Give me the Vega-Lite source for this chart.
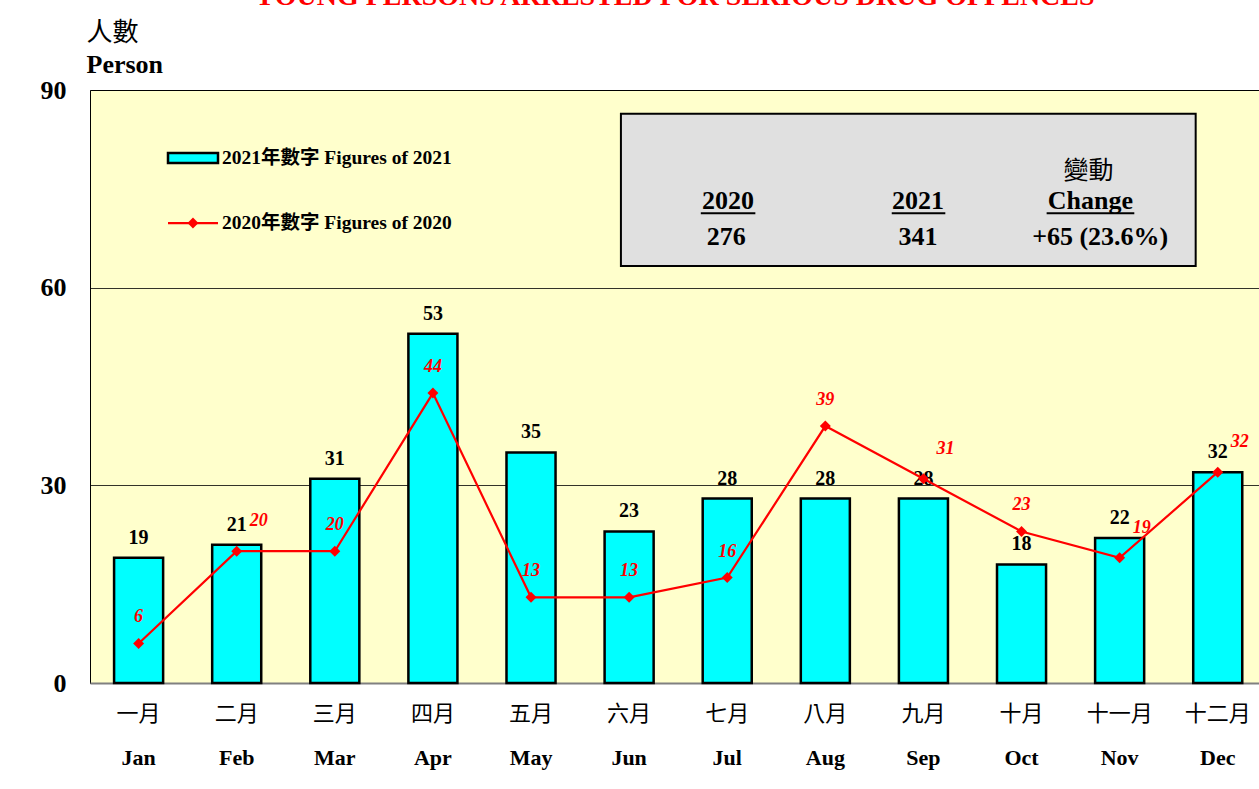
{
  "$schema": "https://vega.github.io/schema/vega-lite/v6.json",
  "width": 1169,
  "height": 593,
  "autosize": {"type": "none"},
  "padding": {"left": 90, "top": 90, "right": 0, "bottom": 106},
  "background": "white",
  "title": {
    "text": "YOUNG PERSONS ARRESTED FOR SERIOUS DRUG OFFENCES",
    "color": "#FF0000",
    "fontSize": 28,
    "fontWeight": "bold",
    "font": "Liberation Serif",
    "anchor": "middle",
    "frame": "group",
    "baseline": "alphabetic",
    "offset": -14
  },
  "config": {
    "font": "Liberation Serif, Noto Sans CJK TC",
    "view": {"fill": "#FFFFCC", "stroke": "#000000", "strokeWidth": 1}
  },
  "layer": [
    {
      "data": {
        "values": [
          {"cn": "一月", "en": "Jan", "y21": 19, "y20": 6},
          {"cn": "二月", "en": "Feb", "y21": 21, "y20": 20},
          {"cn": "三月", "en": "Mar", "y21": 31, "y20": 20},
          {"cn": "四月", "en": "Apr", "y21": 53, "y20": 44},
          {"cn": "五月", "en": "May", "y21": 35, "y20": 13},
          {"cn": "六月", "en": "Jun", "y21": 23, "y20": 13},
          {"cn": "七月", "en": "Jul", "y21": 28, "y20": 16},
          {"cn": "八月", "en": "Aug", "y21": 28, "y20": 39},
          {"cn": "九月", "en": "Sep", "y21": 28, "y20": 31},
          {"cn": "十月", "en": "Oct", "y21": 18, "y20": 23},
          {"cn": "十一月", "en": "Nov", "y21": 22, "y20": 19},
          {"cn": "十二月", "en": "Dec", "y21": 32, "y20": 32}
        ]
      },
      "encoding": {
        "x": {
          "field": "cn",
          "type": "nominal",
          "sort": null,
          "scale": {"paddingInner": 0.5, "paddingOuter": 0.208, "align": 0.59},
          "axis": {
            "title": "人數",
            "titleX": -4,
            "titleY": -643,
            "titleAngle": 0,
            "titleAlign": "left",
            "titleBaseline": "alphabetic",
            "titleFontSize": 26,
            "titleFontWeight": "normal",
            "titleColor": "#000000",
            "labelAngle": 0,
            "labelFontSize": 22,
            "labelFontWeight": "normal",
            "labelColor": "#000000",
            "labelPadding": 20,
            "ticks": false,
            "domain": true,
            "domainColor": "#808080",
            "domainWidth": 2,
            "grid": false
          }
        }
      },
      "layer": [
        {
          "mark": {"type": "bar", "fill": "#00FFFF", "stroke": "#000000", "strokeWidth": 2.5},
          "encoding": {
            "y": {
              "field": "y21",
              "type": "quantitative",
              "scale": {"domain": [0, 90], "nice": false},
              "axis": {
                "title": "Person",
                "titleX": -4,
                "titleY": -18,
                "titleAngle": 0,
                "titleAlign": "left",
                "titleBaseline": "alphabetic",
                "titleFontSize": 26,
                "titleFontWeight": "bold",
                "titleColor": "#000000",
                "values": [0, 30, 60, 90],
                "labelFontSize": 26,
                "labelFontWeight": "bold",
                "labelColor": "#000000",
                "labelPadding": 24,
                "ticks": false,
                "domain": false,
                "grid": true,
                "gridColor": "#000000",
                "gridWidth": 1,
                "gridOpacity": 0.8
              }
            }
          }
        },
        {
          "mark": {"type": "text", "baseline": "alphabetic", "dy": -14, "fontSize": 20, "fontWeight": "bold", "color": "#000000"},
          "encoding": {
            "y": {"field": "y21", "type": "quantitative"},
            "text": {"field": "y21", "type": "quantitative"}
          }
        },
        {
          "mark": {"type": "line", "color": "#FF0000", "strokeWidth": 2.2},
          "encoding": {
            "y": {"field": "y20", "type": "quantitative"}
          }
        },
        {
          "mark": {"type": "point", "shape": "diamond", "filled": true, "color": "#FF0000", "size": 120, "opacity": 1},
          "encoding": {
            "y": {"field": "y20", "type": "quantitative"}
          }
        },
        {
          "transform": [{"filter": "indexof(['Jan','Mar','Apr','May','Jun','Jul','Aug','Oct'], datum.en) >= 0"}],
          "mark": {"type": "text", "baseline": "middle", "dy": -26, "fontSize": 18, "fontWeight": "bold", "fontStyle": "italic", "color": "#FF0000"},
          "encoding": {
            "y": {"field": "y20", "type": "quantitative"},
            "text": {"field": "y20", "type": "quantitative"}
          }
        },
        {
          "transform": [{"filter": "indexof(['Feb','Sep','Nov','Dec'], datum.en) >= 0"}],
          "mark": {"type": "text", "baseline": "middle", "dx": 22, "dy": -30, "fontSize": 18, "fontWeight": "bold", "fontStyle": "italic", "color": "#FF0000"},
          "encoding": {
            "y": {"field": "y20", "type": "quantitative"},
            "text": {"field": "y20", "type": "quantitative"}
          }
        },
        {
          "mark": {"type": "text", "baseline": "middle", "dy": 75, "fontSize": 22, "fontWeight": "bold", "color": "#000000"},
          "encoding": {
            "y": {"datum": 0, "type": "quantitative"},
            "text": {"field": "en", "type": "nominal"}
          }
        }
      ]
    },
    {
      "layer": [
        {
          "data": {"values": [{"x1": 5.45, "x2": 11.35, "y1": 63.3, "y2": 86.4}]},
          "mark": {"type": "rect", "fill": "#E0E0E0", "stroke": "#000000", "strokeWidth": 2},
          "encoding": {
            "x": {"field": "x1", "type": "quantitative", "scale": {"domain": [0, 12]}, "axis": null},
            "x2": {"field": "x2"},
            "y": {"field": "y1", "type": "quantitative"},
            "y2": {"field": "y2"}
          }
        },
        {
          "data": {"values": [
            {"u1": 6.27, "u2": 6.83, "uy": 71.3},
            {"u1": 8.23, "u2": 8.78, "uy": 71.3},
            {"u1": 9.82, "u2": 10.72, "uy": 71.3}
          ]},
          "mark": {"type": "rule", "stroke": "#000000", "strokeWidth": 2},
          "encoding": {
            "x": {"field": "u1", "type": "quantitative", "axis": null},
            "x2": {"field": "u2"},
            "y": {"field": "uy", "type": "quantitative"}
          }
        },
        {
          "data": {"values": [
            {"tx": 6.55, "ty": 71.9, "t": "2020"},
            {"tx": 6.53, "ty": 66.5, "t": "276"},
            {"tx": 8.5, "ty": 71.9, "t": "2021"},
            {"tx": 8.5, "ty": 66.5, "t": "341"},
            {"tx": 10.27, "ty": 71.9, "t": "Change"},
            {"tx": 10.37, "ty": 66.5, "t": "+65 (23.6%)"}
          ]},
          "mark": {"type": "text", "baseline": "alphabetic", "fontSize": 26, "fontWeight": "bold", "color": "#000000"},
          "encoding": {
            "x": {"field": "tx", "type": "quantitative", "axis": null},
            "y": {"field": "ty", "type": "quantitative"},
            "text": {"field": "t", "type": "nominal"}
          }
        },
        {
          "data": {"values": [{"tx": 10.25, "ty": 76.5, "t": "變動"}]},
          "mark": {"type": "text", "baseline": "alphabetic", "fontSize": 25, "fontWeight": "normal", "color": "#000000"},
          "encoding": {
            "x": {"field": "tx", "type": "quantitative", "axis": null},
            "y": {"field": "ty", "type": "quantitative"},
            "text": {"field": "t", "type": "nominal"}
          }
        },
        {
          "data": {"values": [{"lx1": 0.8007, "lx2": 1.314, "ly1": 78.92, "ly2": 80.44}]},
          "mark": {"type": "rect", "fill": "#00FFFF", "stroke": "#000000", "strokeWidth": 2.5},
          "encoding": {
            "x": {"field": "lx1", "type": "quantitative", "axis": null},
            "x2": {"field": "lx2"},
            "y": {"field": "ly1", "type": "quantitative"},
            "y2": {"field": "ly2"}
          }
        },
        {
          "data": {"values": [{"lx1": 0.8007, "lx2": 1.314, "ly": 69.81}]},
          "mark": {"type": "rule", "stroke": "#FF0000", "strokeWidth": 2.2},
          "encoding": {
            "x": {"field": "lx1", "type": "quantitative", "axis": null},
            "x2": {"field": "lx2"},
            "y": {"field": "ly", "type": "quantitative"}
          }
        },
        {
          "data": {"values": [{"lx": 1.057, "ly": 69.81}]},
          "mark": {"type": "point", "shape": "diamond", "filled": true, "color": "#FF0000", "size": 120, "opacity": 1},
          "encoding": {
            "x": {"field": "lx", "type": "quantitative", "axis": null},
            "y": {"field": "ly", "type": "quantitative"}
          }
        },
        {
          "data": {"values": [
            {"lx": 1.355, "ly": 79.68, "t": "2021年數字 Figures of 2021"},
            {"lx": 1.355, "ly": 69.81, "t": "2020年數字 Figures of 2020"}
          ]},
          "mark": {"type": "text", "align": "left", "baseline": "middle", "fontSize": 19.5, "fontWeight": "bold", "color": "#000000"},
          "encoding": {
            "x": {"field": "lx", "type": "quantitative", "axis": null},
            "y": {"field": "ly", "type": "quantitative"},
            "text": {"field": "t", "type": "nominal"}
          }
        }
      ]
    }
  ],
  "resolve": {"scale": {"x": "independent"}}
}
